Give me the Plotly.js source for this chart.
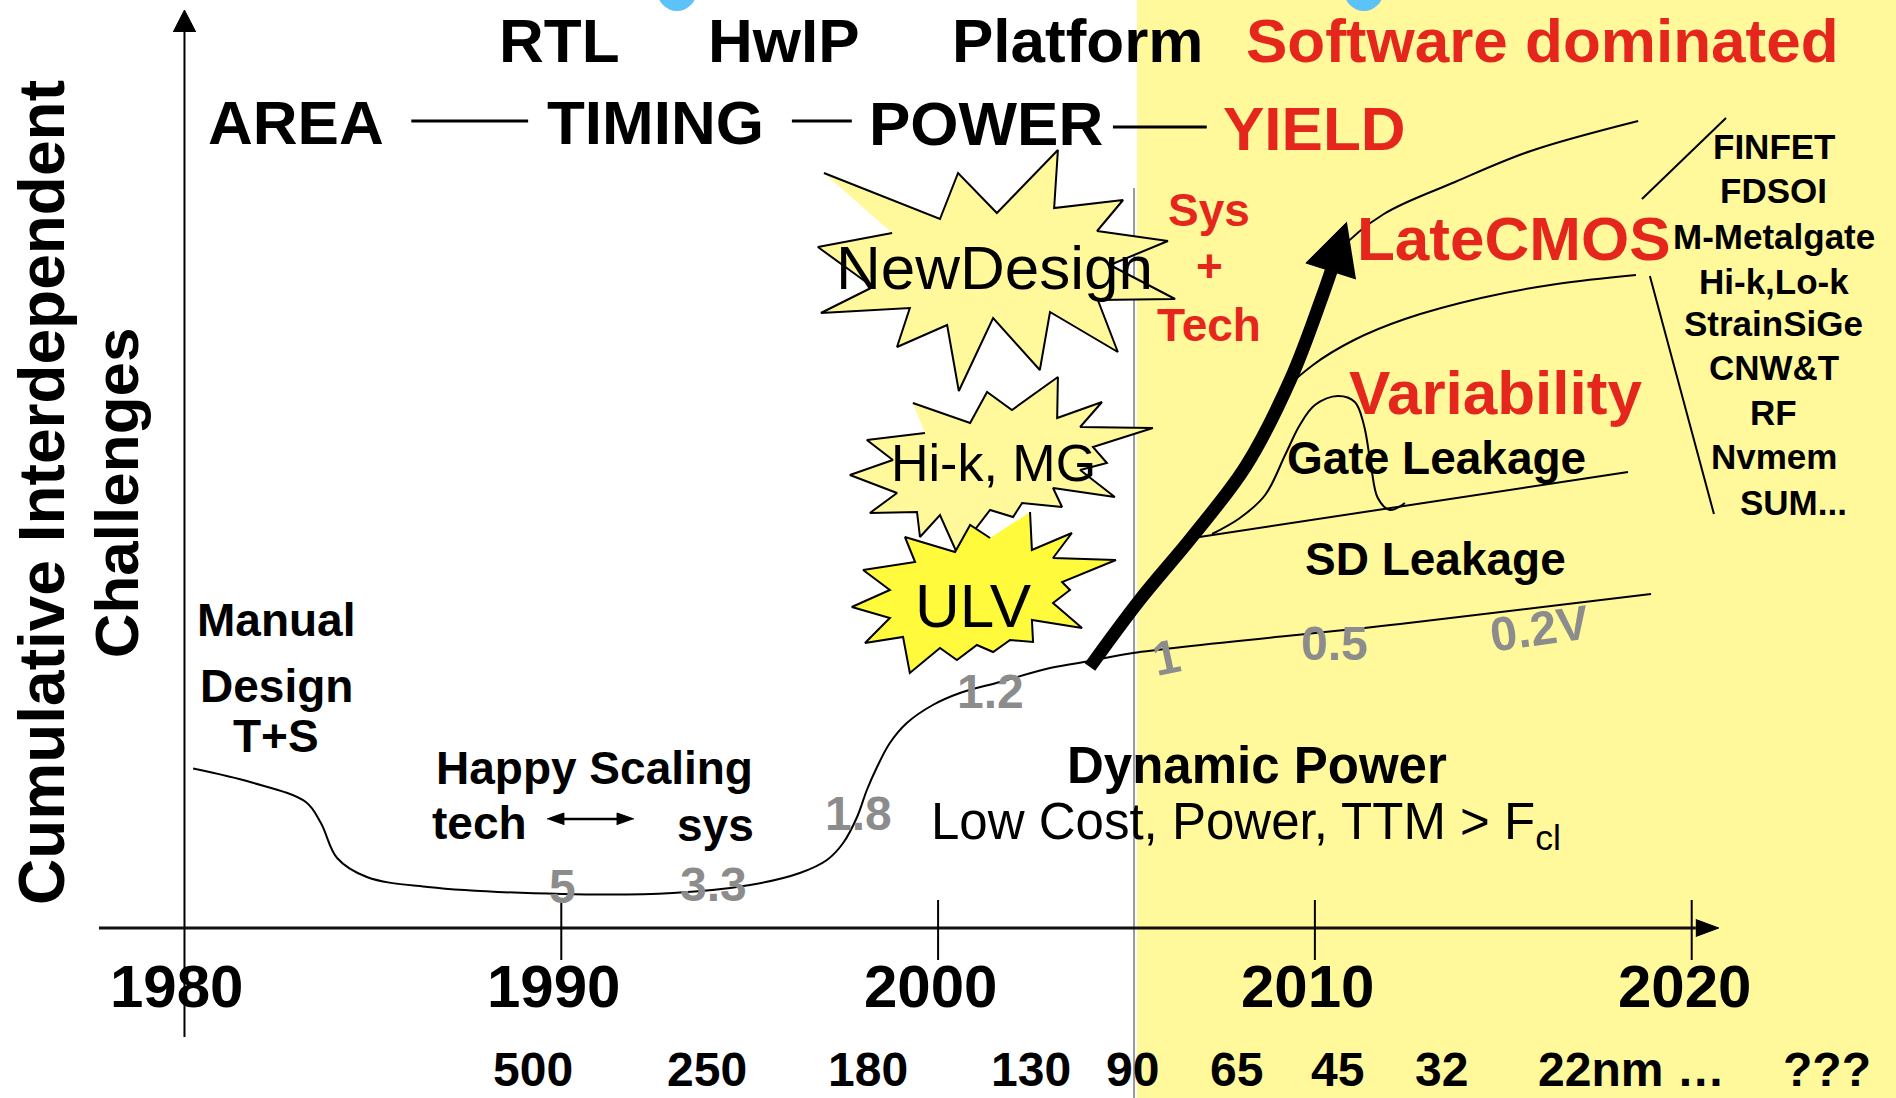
<!DOCTYPE html>
<html><head><meta charset="utf-8">
<script src="https://cdn.plot.ly/plotly-3.0.1.min.js"></script>
<style>html,body{margin:0;padding:0;background:#fff;overflow:hidden}#chart{width:1896px;height:1098px}</style>
</head><body><div id="chart"></div>
<script>
// ---------------- data (years on x, arbitrary "challenge" level on y) ----------------
const mainYears  = [1980.23,1981.79,1983.22,1983.62,1984.05,1984.84,1986.46,1990.02,1992.96,1995.01,1996.33,1997.05,1997.48,1997.85,1998.11,1998.38,1998.72,1999.17,1999.86,2000.58,2001.64,2002.97,2004.03,2005.17,2012.26,2018.92];
const mainLevels = [15.95,14.55,12.6,10.5,7.0,5.1,4.1,3.4,3.5,4.3,5.5,6.8,8.5,11.1,13.8,16.1,18.5,20.5,22.3,23.5,24.6,26.0,26.7,27.5,30.4,33.4];

const arrowYears  = [2004.03,2005.33,2006.76,2008.17,2009.37,2010.19,2010.43];
const arrowLevels = [26.1,32.7,39.2,46.2,55.0,63.1,65.7];
const arrowHeadYears  = [2010.85,2009.76,2011.09];
const arrowHeadLevels = [70.6,66.5,64.9];

const lateUpperYears  = [2010.30,2010.67,2011.83,2013.72,2015.73,2018.58];
const lateUpperLevels = [65.5,67.8,71.4,74.6,77.7,80.7];
const lateLowerYears  = [2008.80,2009.07,2009.95,2011.04,2012.39,2014.41,2016.42,2018.52];
const lateLowerLevels = [50.8,53.2,56.3,58.8,60.9,63.0,64.4,65.3];

const gateYears  = [2006.76,2018.31];
const gateLevels = [39.0,45.6];
const variabYears  = [2007.27,2008.01,2008.68,2009.21,2009.60,2010.00,2010.61,2011.06,2011.30,2011.49,2011.67,2011.99,2012.39];
const variabLevels = [39.4,41.0,43.3,47.3,50.3,52.3,53.2,52.6,50.3,46.2,43.0,41.8,42.5];

const bracketUpYears = [2018.68,2020.91], bracketUpLevels = [72.9,81.0];
const bracketLoYears = [2018.89,2020.59], bracketLoLevels = [65.2,41.4];

const starNewYears  = [1996.97,2000.05,2000.53,2001.56,2003.18,2003.08,2004.91,2004.22,2006.10,2004.56,2006.29,2004.24,2004.77,2002.97,2002.70,2001.46,2000.55,2000.24,1998.91,1999.25,1996.89,1998.27,1996.81,1998.78];
const starNewLevels = [75.5,70.9,75.5,71.5,77.8,72.0,72.8,69.7,68.7,66.3,62.9,62.8,57.6,61.6,55.8,61.0,53.7,60.3,58.1,62.0,61.5,64.1,68.1,69.5];
const starHikYears  = [1999.33,2000.85,2001.30,2001.96,2003.18,2003.16,2004.35,2003.77,2005.70,2004.11,2004.48,2003.77,2004.69,2003.05,2003.29,2002.23,2001.99,2001.38,2000.50,2000.05,1999.52,1999.44,1998.19,1998.91,1997.66,1998.80,1998.11,1999.65];
const starHikLevels = [52.5,50.5,53.6,51.8,55.1,51.0,52.6,50.1,50.0,48.1,46.5,45.8,43.1,44.0,42.1,42.5,41.1,41.8,37.5,41.3,39.1,41.6,41.5,43.5,45.3,46.8,48.8,49.5];
const starUlvYears  = [2002.44,2002.49,2003.55,2003.05,2004.72,2003.29,2003.50,2003.05,2003.82,2002.49,2002.52,2001.91,2001.46,2001.03,2000.50,2000.05,1999.25,1999.07,1998.06,1998.72,1997.71,1998.72,1998.01,1999.39,1999.12,2000.45,2000.85,2001.38];
const starUlvLevels = [41.6,37.8,39.5,37.0,36.8,34.6,33.8,32.5,30.0,30.8,28.6,28.8,27.6,28.3,26.8,28.0,25.5,29.1,28.5,31.0,32.1,33.8,35.8,36.6,39.1,37.6,40.3,39.0];

// "tech <-> sys" double arrow
const scaleArrowYears  = [1989.62,1991.93];
const scaleArrowLevels = [10.9,10.9];

const yearTicks  = [1980,1990,2000,2010,2020];
const yearLabels = ['1980','1990','2000','2010','2020'];
const nodeLabels = ['500','250','180','130','90','65','45','32','22nm …','???'];
const nodeYears  = [1989.25,1993.87,1998.14,2002.47,2005.17,2007.93,2010.61,2013.35,2018.39,2023.59];
const voltLabels = ['5','3.3','1.8','1.2','1','0.5','0.2V'];
const voltYears  = [1990.02,1994.03,1997.90,2001.38,2006.05,2010.53,2015.97];
const voltLevels = [4.2,4.4,11.5,23.7,27.1,28.5,30.0];
const voltAngles = [0,0,0,0,-12,0,-8];
const techItems  = ['FINFET','FDSOI','M-Metalgate','Hi-k,Lo-k','StrainSiGe','CNW&amp;T','RF','Nvmem','SUM...'];
const techLevels = [78.2,73.8,69.2,64.7,60.5,56.1,51.6,47.2,42.6];

// ---------------- styles ----------------
const FONT = 'Liberation Sans, Arial, Helvetica, sans-serif';
const RED = '#e5261d', GREY = '#8c8c8c', PALE = '#fff99c', BRIGHT = '#fffa3c';
const X0 = 1975.104, X1 = 2025.422, Y0 = -17.0, Y1 = 92.8;

function line(x, y, w, color, shape) {
  return {type:'scatter', mode:'lines', x:x, y:y, hoverinfo:'skip',
          line:{color:color||'#000', width:w||2, shape:shape||'spline', smoothing:1}};
}
function poly(x, y, fill, lw) {
  return {type:'scatter', mode:'lines', x:x, y:y, fill:'toself', fillcolor:fill, hoverinfo:'skip',
          line:{color:'#000', width:lw===undefined?2:lw, shape:'linear'}};
}

const traces = [
  poly(starNewYears, starNewLevels, PALE),
  poly(starHikYears, starHikLevels, PALE),
  poly(starUlvYears, starUlvLevels, BRIGHT),
  line(mainYears, mainLevels, 2),
  line(gateYears, gateLevels, 2, '#000', 'linear'),
  line(variabYears, variabLevels, 2),
  line(lateLowerYears, lateLowerLevels, 2),
  line(lateUpperYears, lateUpperLevels, 2),
  line(bracketUpYears, bracketUpLevels, 2, '#000', 'linear'),
  line(bracketLoYears, bracketLoLevels, 2, '#000', 'linear'),
  line(arrowYears, arrowLevels, 13),
  poly(arrowHeadYears, arrowHeadLevels, '#000', 1)
];

// double arrow: shaft + two heads built from its two ends
(function(){
  const a = scaleArrowYears[0], b = scaleArrowYears[1], yv = scaleArrowLevels[0];
  const hl = 0.45, hw = 0.6;
  traces.push(line([a+hl*0.8, b-hl*0.8], [yv, yv], 2.5, '#000', 'linear'));
  traces.push(poly([a, a+hl, a+hl], [yv, yv+hw, yv-hw], '#000', 1));
  traces.push(poly([b, b-hl, b-hl], [yv, yv+hw, yv-hw], '#000', 1));
})();

// axis arrowheads built from the axis ends
const yTop = 89.6, yTip = 91.8, xEnd = 2020.11, xTip = 2020.72;
traces.push(poly([1980-0.3,1980,1980+0.3],[yTop,yTip,yTop],'#000',1));
traces.push(poly([xEnd,xTip,xEnd],[-0.85,0,0.85],'#000',1));

const shapes = [
  {type:'rect', xref:'x', yref:'paper', x0:2005.28, x1:X1, y0:0, y1:1, fillcolor:PALE, line:{width:0}, layer:'below'},
  {type:'line', x0:2005.20, x1:2005.20, y0:74.0, y1:Y0, line:{color:'#9a9a9a', width:2}, layer:'below'},
  {type:'line', x0:1980, x1:1980, y0:-10.9, y1:yTop, line:{color:'#000', width:2}},
  {type:'line', x0:1977.73, x1:xEnd, y0:0, y1:0, line:{color:'#111', width:3}},
  {type:'line', x0:1986.02, x1:1989.12, y0:80.7, y1:80.7, line:{color:'#000', width:3}},
  {type:'line', x0:1996.12, x1:1997.71, y0:80.7, y1:80.7, line:{color:'#000', width:3}},
  {type:'line', x0:2004.64, x1:2007.13, y0:80.1, y1:80.1, line:{color:'#000', width:3}},
  {type:'circle', x0:1992.54, x1:1993.60, y0:91.7, y1:95.9, fillcolor:'#5cc2f8', line:{width:0}},
  {type:'circle', x0:2010.77, x1:2011.83, y0:91.7, y1:95.9, fillcolor:'#5cc2f8', line:{width:0}}
];
yearTicks.slice(1).forEach(function(t){
  shapes.push({type:'line', x0:t, x1:t, y0:2.8, y1:-3.2, line:{color:'#000', width:2}});
});

const ann = [];
function txt(text, x, y, size, opt) {
  opt = opt || {};
  ann.push({text:text, x:x, y:y, xref:'x', yref:'y', showarrow:false,
    xanchor:opt.xa||'center', yanchor:'middle', textangle:opt.angle||0,
    font:{family:FONT, size:size, color:opt.color||'#000'}});
}
const B = function(s){return '<b>'+s+'</b>';};

// header rows
txt(B('RTL'), 1989.94, 88.75, 62);
txt(B('HwIP'), 1995.91, 88.75, 62);
txt(B('Platform'), 2003.71, 88.75, 62);
txt(B('Software dominated'), 2016.05, 88.75, 62, {color:RED});
txt(B('AREA'), 1982.96, 80.6, 62);
txt(B('TIMING'), 1992.49, 80.6, 62);
txt(B('POWER'), 2001.27, 80.5, 62);
txt(B('YIELD'), 2009.98, 80.0, 62, {color:RED});

// y axis title
txt(B('Cumulative Interdependent'), 1976.22, 43.5, 64, {angle:-90});
txt(B('Challenges'), 1978.19, 43.5, 62, {angle:-90});

// era labels
txt(B('Manual'), 1982.43, 30.8, 46);
txt(B('Design'), 1982.43, 24.2, 46);
txt(B('T+S'), 1982.43, 19.2, 46);
txt(B('Happy Scaling'), 1990.89, 16.0, 46);
txt(B('tech'), 1987.84, 10.5, 46);
txt(B('sys'), 1994.08, 10.3, 46);
txt(B('Dynamic Power'), 2008.46, 16.3, 51);
txt('Low Cost, Power, TTM &gt; F<sub>cl</sub>', 1999.76, 10.3, 51, {xa:'left'});

// starburst labels
txt('NewDesign', 2001.51, 66.1, 62);
txt('Hi-k, MG', 2001.48, 46.5, 52);
txt('ULV', 2000.93, 32.3, 62);

// technology-era labels
txt(B('Sys'), 2007.19, 71.8, 46, {color:RED});
txt(B('+'), 2007.19, 66.2, 46, {color:RED});
txt(B('Tech'), 2007.19, 60.3, 46, {color:RED});
txt(B('LateCMOS'), 2015.26, 69.0, 62, {color:RED});
txt(B('Variability'), 2014.78, 53.6, 62, {color:RED});
txt(B('Gate Leakage'), 2013.24, 47.0, 46);
txt(B('SD Leakage'), 2013.21, 36.9, 46);
techItems.forEach(function(t,i){
  txt(B(t), i===techItems.length-1 ? 2022.69 : 2022.18, techLevels[i], 35);
});

// voltage labels
voltLabels.forEach(function(v,i){
  txt(B(v), voltYears[i], voltLevels[i], 48, {color:GREY, angle:voltAngles[i]});
});

// year and node labels
yearTicks.forEach(function(t,i){ txt(B(yearLabels[i]), t-0.2, -5.8, 60); });
nodeLabels.forEach(function(n,i){ txt(B(n), nodeYears[i], -14.1, 48); });

const layout = {
  width:1896, height:1098, margin:{l:0,r:0,t:0,b:0},
  paper_bgcolor:'#ffffff', plot_bgcolor:'#ffffff', showlegend:false,
  xaxis:{range:[X0,X1], visible:false, fixedrange:true},
  yaxis:{range:[Y0,Y1], visible:false, fixedrange:true},
  shapes:shapes, annotations:ann
};
Plotly.newPlot('chart', traces, layout, {staticPlot:true, displayModeBar:false});
</script>
</body></html>
